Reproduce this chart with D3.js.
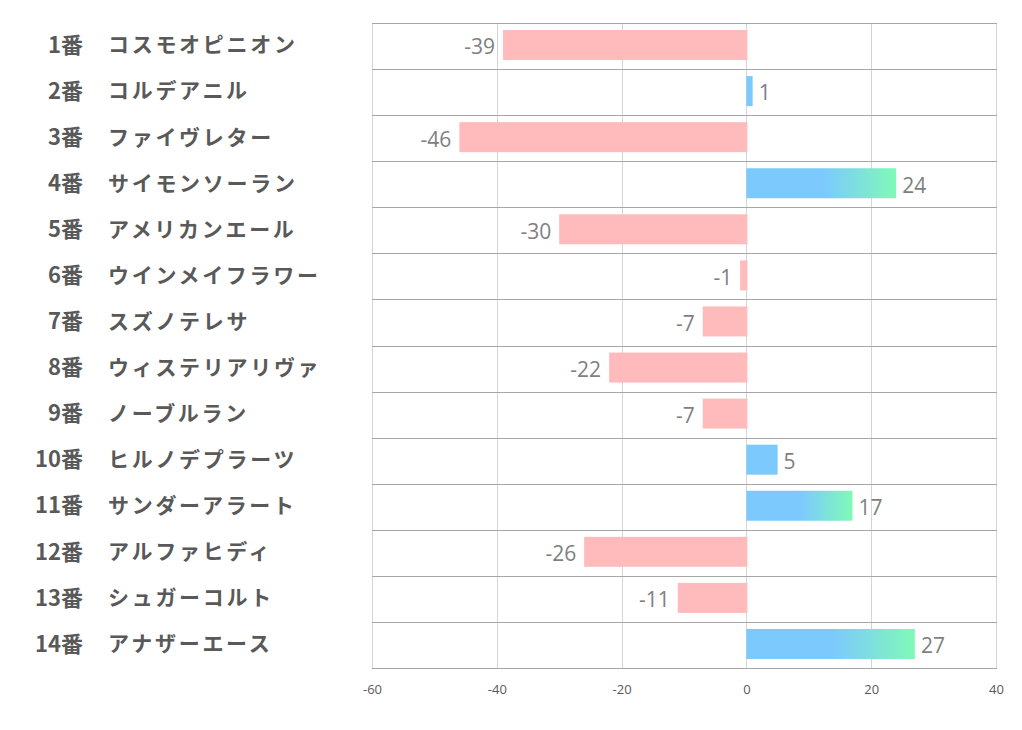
<!DOCTYPE html>
<html><head><meta charset="utf-8">
<script src="https://cdn.jsdelivr.net/npm/d3@7"></script>
<style>
html,body{margin:0;padding:0;background:#fff;}
svg{display:block;}
</style></head>
<body>
<svg id="chart" width="1022" height="730"></svg>
<script>
const numbers = ["1番","2番","3番","4番","5番","6番","7番","8番","9番","10番","11番","12番","13番","14番"];
const names = ["コスモオピニオン","コルデアニル","ファイヴレター","サイモンソーラン","アメリカンエール","ウインメイフラワー","スズノテレサ","ウィステリアリヴァ","ノーブルラン","ヒルノデプラーツ","サンダーアラート","アルファヒディ","シュガーコルト","アナザーエース"];
const values = [-39,1,-46,24,-30,-1,-7,-22,-7,5,17,-26,-11,27];
const xTicks = [-60,-40,-20,0,20,40];

(function(){
const svg = d3.select("#chart");
const pL = 372, pR = 996, pT = 23, pB = 668;
const x = d3.scaleLinear().domain([-60,40]).range([pL,pR]);
const y = d3.scaleBand().domain(d3.range(values.length)).range([pT,pB]).paddingInner(0).paddingOuter(0);
const barH = 30;

const defs = svg.append("defs");
const grad = defs.append("linearGradient").attr("id","posGrad").attr("x1","0%").attr("x2","100%").attr("y1","0%").attr("y2","0%");
grad.append("stop").attr("offset","0%").attr("stop-color","#7ccafd");
grad.append("stop").attr("offset","52%").attr("stop-color","#7ccafd");
grad.append("stop").attr("offset","100%").attr("stop-color","#80f9b7");

// vertical grid
svg.append("g").selectAll("line").data(xTicks).join("line")
  .attr("x1",d=>Math.round(x(d))+0.5).attr("x2",d=>Math.round(x(d))+0.5)
  .attr("y1",pT).attr("y2",pB)
  .attr("stroke","#d4d4d4").attr("stroke-width",1);

// horizontal row separators
const seps = d3.range(values.length+1);
svg.append("g").selectAll("line").data(seps).join("line")
  .attr("x1",pL).attr("x2",pR+1)
  .attr("y1",d=>Math.round(pT + d*y.step())+0.5).attr("y2",d=>Math.round(pT + d*y.step())+0.5)
  .attr("stroke","#a6a6a6").attr("stroke-width",1);

// bars
svg.append("g").selectAll("rect").data(values).join("rect")
  .attr("x",d=>d<0 ? x(d) : x(0))
  .attr("y",(d,i)=>y(i)+y.bandwidth()/2 - barH/2 - 1)
  .attr("width",d=>Math.abs(x(d)-x(0)) + (d<0?1:0))
  .attr("height",barH)
  .attr("fill",d=>d<0 ? "#ffbbbb" : (d>=10 ? "url(#posGrad)" : "#7ccafd"));

// value labels
svg.append("g").selectAll("text").data(values).join("text")
  .attr("x",d=>d<0 ? x(d)-8 : x(d)+6)
  .attr("y",(d,i)=>y(i)+y.bandwidth()/2+1)
  .attr("dy","0.35em")
  .attr("text-anchor",d=>d<0?"end":"start")
  .attr("font-family","'Open Sans','Noto Sans',sans-serif")
  .attr("font-size",21)
  .attr("fill","#7f7f7f")
  .text(d=>String(d));

// category labels
const lab = svg.append("g");
lab.selectAll("text.num").data(numbers).join("text").attr("class","num")
  .attr("x",83).attr("y",(d,i)=>y(i)+y.bandwidth()/2-1).attr("dy","0.35em")
  .attr("text-anchor","end")
  .attr("font-family","'Noto Sans CJK JP',sans-serif").attr("font-weight","bold")
  .attr("font-size",22).attr("fill","#595959").text(d=>d);
lab.selectAll("text.name").data(names).join("text").attr("class","name")
  .attr("x",108).attr("y",(d,i)=>y(i)+y.bandwidth()/2-1).attr("dy","0.35em")
  .attr("font-family","'Noto Sans CJK JP',sans-serif").attr("font-weight","bold")
  .attr("letter-spacing","2.7px")
  .attr("font-size",21).attr("fill","#595959").text(d=>d);

// x axis labels
const ax = svg.append("g").attr("transform",`translate(0,${pB})`)
  .call(d3.axisBottom(x).tickValues(xTicks).tickSize(0).tickPadding(17).tickFormat(d=>String(d)));
ax.select(".domain").remove();
ax.selectAll("text").attr("font-family","'Open Sans','Noto Sans',sans-serif").attr("font-size",13).attr("fill","#595959");
})();
</script>
</body></html>
